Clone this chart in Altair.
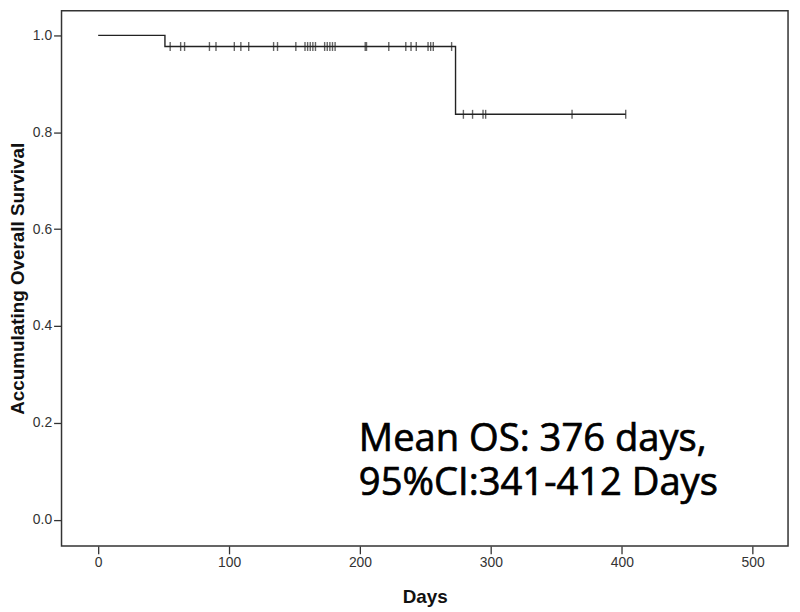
import altair as alt
import pandas as pd

# Step-function (Kaplan-Meier) points: event times and survival after event
step_days = [0, 51, 273, 403]
step_surv = [1.0, 0.977, 0.837, 0.837]

# Censored observations
cens_days_1 = [55, 63, 66, 85, 90, 104, 109, 115, 134, 137, 151, 158, 160, 162,
               164, 166, 173, 175, 177, 179, 181, 204, 205, 222, 235, 239, 243,
               252, 254, 256, 270]
cens_days_2 = [279, 286, 294, 296, 362, 403]

x_ticks = [0, 100, 200, 300, 400, 500]
y_ticks = [0.0, 0.2, 0.4, 0.6, 0.8, 1.0]

note_text = "Mean OS: 376 days,\n95%CI:341-412 Days"

step_df = pd.DataFrame({"day": step_days, "surv": step_surv})
cens_df = pd.DataFrame({
    "day": cens_days_1 + cens_days_2,
    "surv": [step_surv[1]] * len(cens_days_1) + [step_surv[2]] * len(cens_days_2),
})
note_df = pd.DataFrame({"t": [note_text]})

xscale = alt.Scale(domain=[-28, 527], nice=False, zero=False)
yscale = alt.Scale(domain=[-0.054, 1.051], nice=False, zero=False)

xaxis = alt.Axis(values=x_ticks, title="Days", grid=False, domain=False,
                 tickSize=8, tickColor="#333", tickWidth=1.3,
                 labelFont="Liberation Sans", labelFontSize=14, labelColor="#333",
                 labelPadding=2, titleFont="Liberation Sans", titleFontSize=19,
                 titleFontWeight="bold", titleColor="#111", titlePadding=18)
yaxis = alt.Axis(values=y_ticks, format=".1f", title="Accumulating Overall Survival",
                 grid=False, domain=False, tickSize=8, tickColor="#333", tickWidth=1.3,
                 labelFont="Liberation Sans", labelFontSize=14, labelColor="#333",
                 labelPadding=2, titleFont="Liberation Sans", titleFontSize=19,
                 titleFontWeight="bold", titleColor="#111", titlePadding=5)

line = alt.Chart(step_df).mark_line(interpolate="step-after", color="#222",
                                    strokeWidth=1.4).encode(
    x=alt.X("day:Q", scale=xscale, axis=xaxis),
    y=alt.Y("surv:Q", scale=yscale, axis=yaxis),
)

cens = alt.Chart(cens_df).mark_tick(orient="vertical", size=9, thickness=1.4,
                                    color="#222").encode(
    x=alt.X("day:Q", scale=xscale),
    y=alt.Y("surv:Q", scale=yscale),
)

note = alt.Chart(note_df).mark_text(align="left", baseline="alphabetic",
                                    font="Open Sans", fontSize=38.5,
                                    color="#000", stroke="#000", strokeWidth=0.7,
                                    lineBreak="\n", lineHeight=45).encode(
    x=alt.value(300), y=alt.value(444), text="t:N"
)

chart = alt.layer(line, cens, note).properties(
    width=733, height=540,
    autosize=alt.AutoSizeParams(type="none"),
    padding={"left": 54, "top": 0, "right": 4, "bottom": 62},
).configure(background="white").configure_view(stroke="#333", strokeWidth=1.5)

chart.save("out.html", embed_options={"renderer": "svg", "actions": False})
